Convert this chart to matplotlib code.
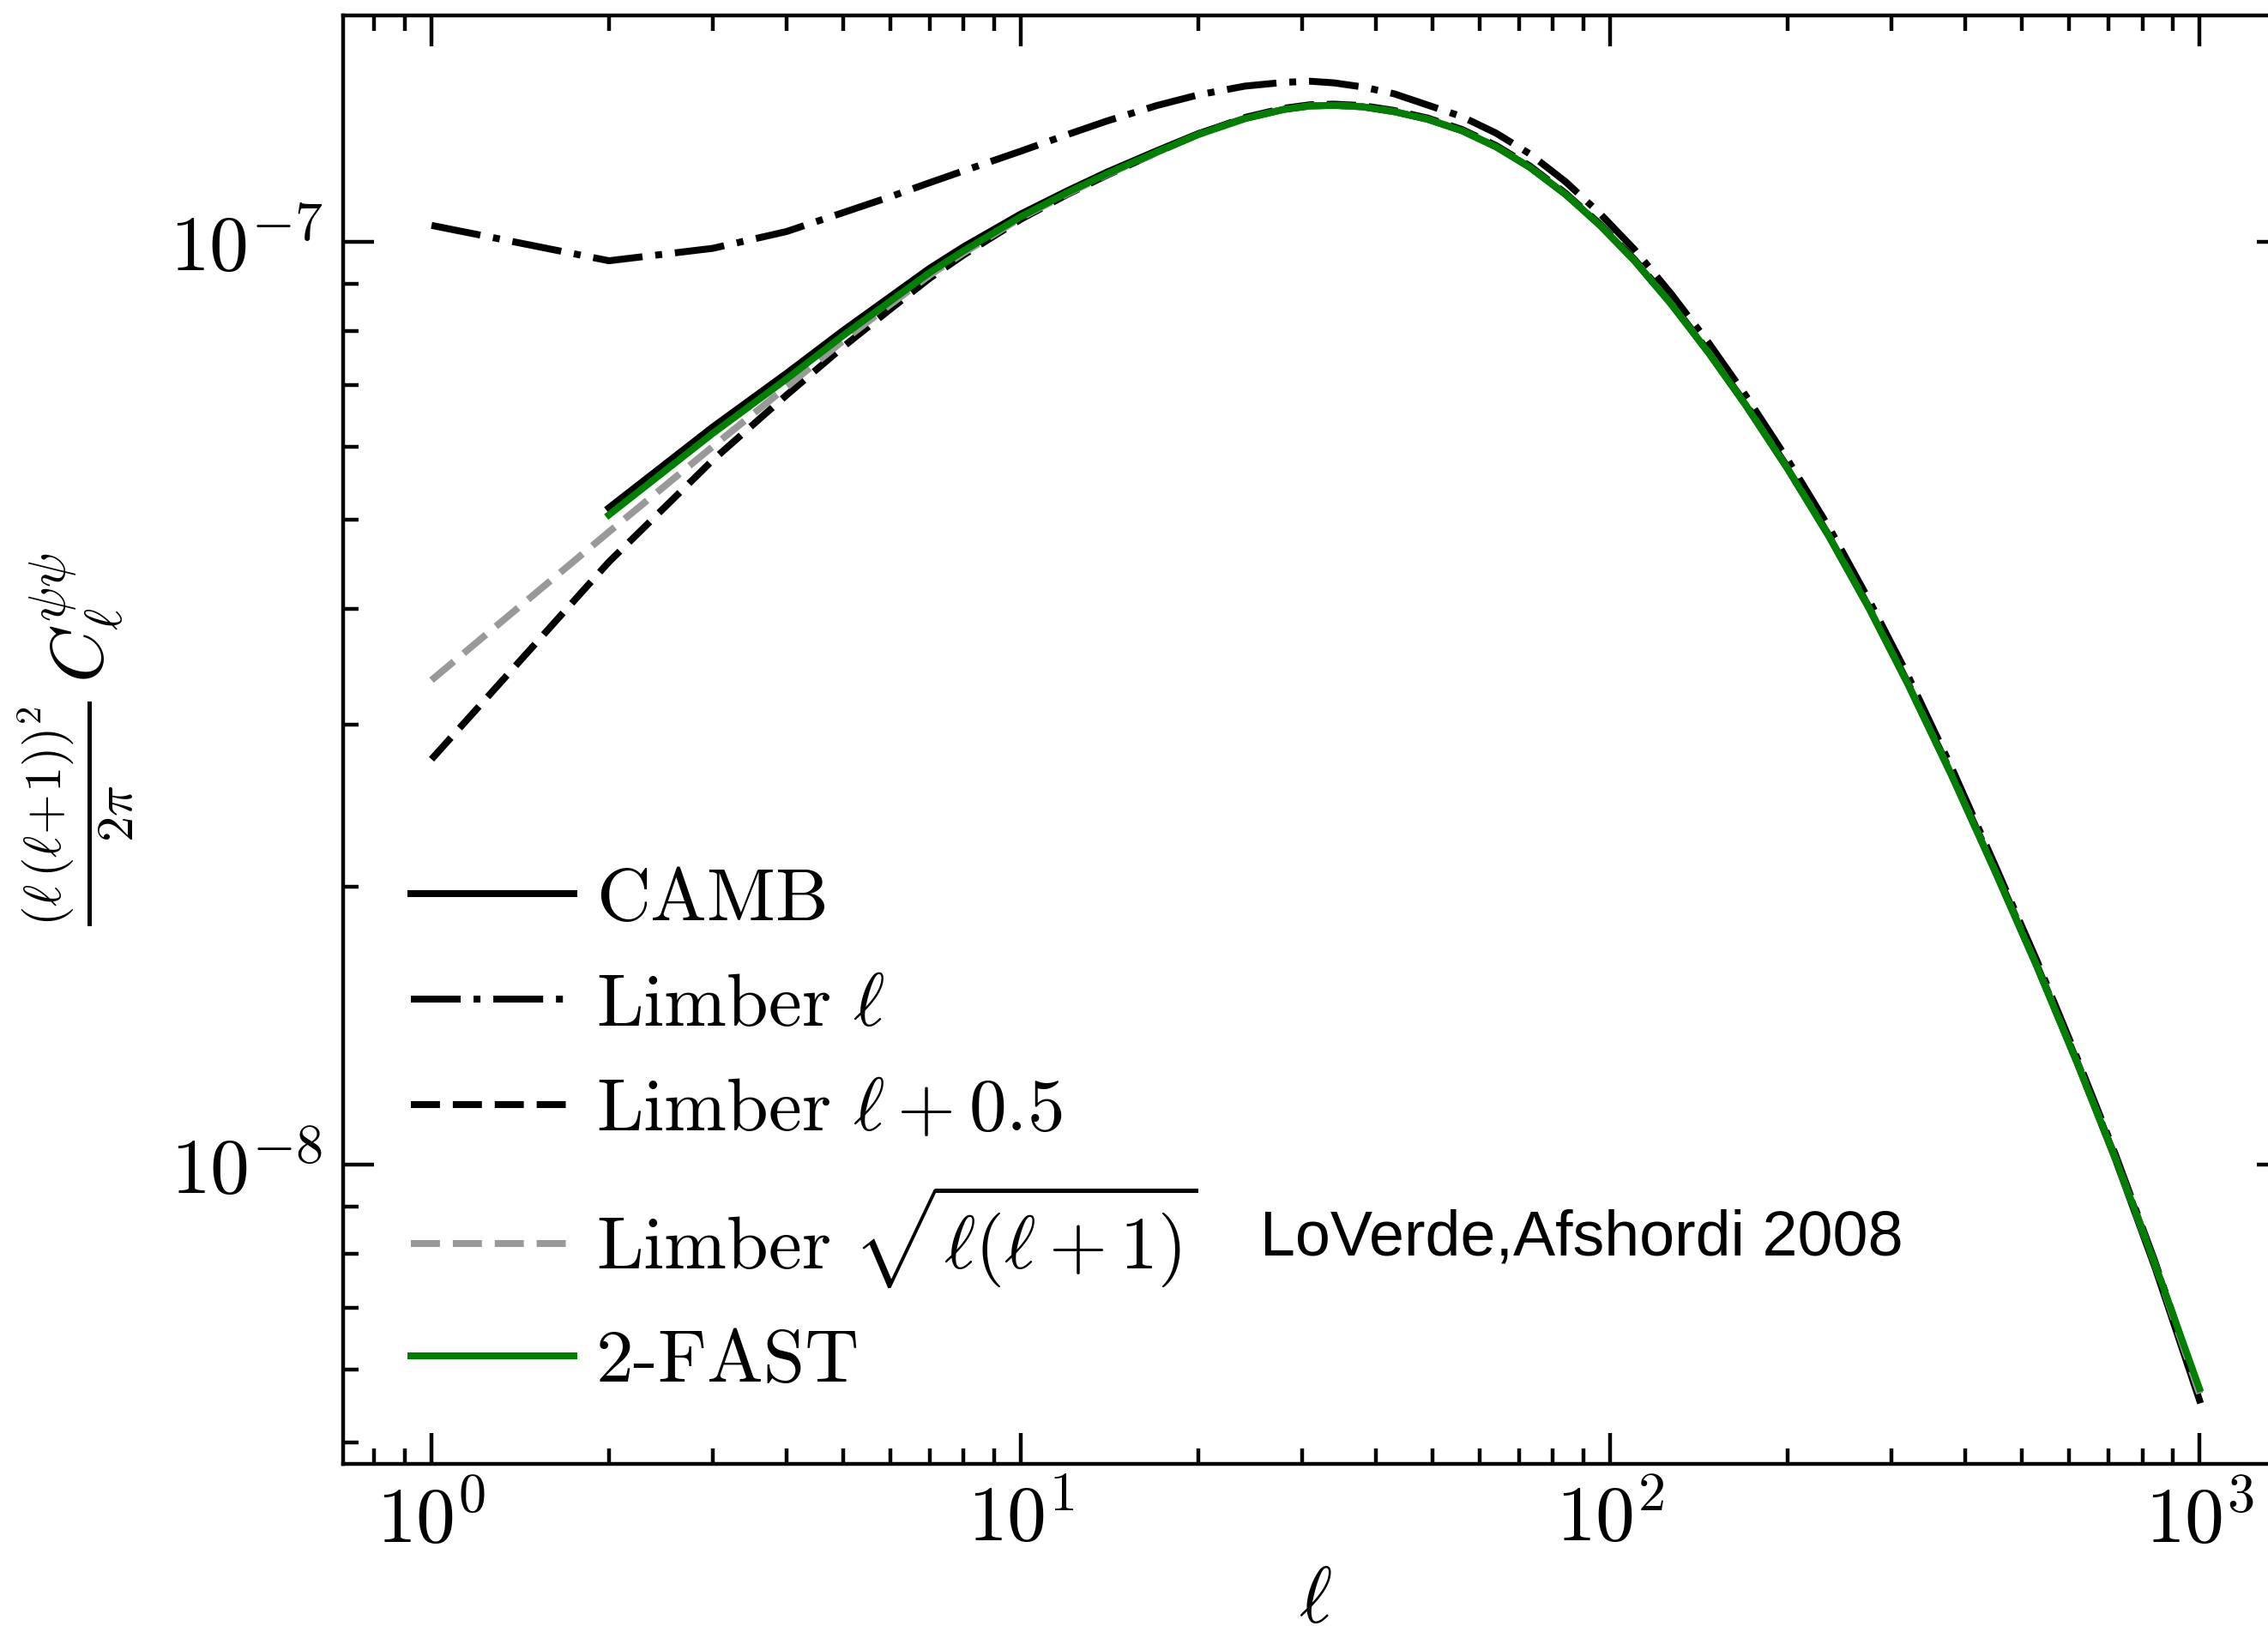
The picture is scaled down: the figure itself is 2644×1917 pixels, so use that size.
import numpy as np
import matplotlib
matplotlib.use("Agg")
import matplotlib.pyplot as plt
from matplotlib.ticker import LogLocator, FuncFormatter, NullFormatter

# multipoles
ell = np.array([1, 2, 3, 4, 5, 6, 7, 8, 10, 12, 14, 17, 20, 24, 28, 31, 34, 38, 43, 49,
                56, 64, 73, 84, 96, 110, 127, 147, 170, 200, 235, 275, 320, 380, 450,
                530, 620, 720, 840, 1000])

# values in units of 1e-8
# 2-FAST (starts at ell=2)
ell_fast = ell[1:]
cl_fast = np.array([5.06, 6.20, 7.10, 7.92, 8.62, 9.26, 9.78, 10.65, 11.31, 11.85, 12.51,
                    13.07, 13.60, 13.92, 14.04, 14.06, 14.01, 13.84, 13.58, 13.20, 12.68,
                    12.05, 11.26, 10.43, 9.54, 8.56, 7.58, 6.65, 5.68, 4.80, 4.01, 3.32,
                    2.64, 2.08, 1.64, 1.29, 1.016, 0.781, 0.572]) * 1e-8

# CAMB (starts at ell=2)
cl_camb = np.array([5.15, 6.30, 7.20, 8.02, 8.72, 9.36, 9.88, 10.72, 11.36, 11.90, 12.55,
                    13.10, 13.61, 13.92, 14.04, 14.06, 14.01, 13.84, 13.58, 13.20, 12.68,
                    12.05, 11.26, 10.43, 9.54, 8.56, 7.58, 6.65, 5.68, 4.80, 4.01, 3.32,
                    2.64, 2.08, 1.64, 1.29, 1.014, 0.775, 0.556]) * 1e-8

# Limber ell
cl_limb = np.array([10.42, 9.54, 9.84, 10.26, 10.76, 11.19, 11.59, 11.94, 12.54, 13.07, 13.52,
                    14.05, 14.43, 14.75, 14.89, 14.93, 14.87, 14.72, 14.47, 14.07, 13.67,
                    13.12, 12.46, 11.62, 10.74, 9.81, 8.78, 7.77, 6.81, 5.81, 4.91, 4.09,
                    3.39, 2.69, 2.11, 1.663, 1.305, 1.026, 0.786, 0.565]) * 1e-8

# Limber ell + 0.5
cl_half = np.array([2.75, 4.50, 5.80, 6.82, 7.70, 8.45, 9.13, 9.68, 10.58, 11.26, 11.81,
                    12.50, 13.08, 13.64, 13.96, 14.08, 14.10, 14.05, 13.88, 13.62, 13.24,
                    12.72, 12.09, 11.29, 10.46, 9.57, 8.59, 7.60, 6.67, 5.70, 4.81, 4.02,
                    3.33, 2.65, 2.09, 1.645, 1.294, 1.019, 0.783, 0.565]) * 1e-8

# Limber sqrt(ell(ell+1))
cl_sqrt = np.array([3.35, 4.85, 6.00, 6.96, 7.82, 8.55, 9.20, 9.73, 10.62, 11.28, 11.83,
                    12.50, 13.07, 13.60, 13.92, 14.04, 14.06, 14.01, 13.84, 13.58, 13.20,
                    12.68, 12.05, 11.26, 10.43, 9.54, 8.56, 7.58, 6.65, 5.68, 4.80, 4.01,
                    3.32, 2.64, 2.08, 1.64, 1.29, 1.016, 0.781, 0.565]) * 1e-8

plt.rcParams['mathtext.fontset'] = 'cm'
plt.rcParams['font.family'] = 'serif'
plt.rcParams['font.serif'] = ['cmr10']
plt.rcParams['axes.formatter.use_mathtext'] = True
plt.rcParams['lines.scale_dashes'] = False

FS = 33
lw = 2.9

fig = plt.figure(figsize=(13.22, 9.585), dpi=200)
ax = fig.add_axes([0.15129, 0.10955, 0.85746, 0.88086])

ax.plot(ell_fast, cl_camb, color='black', lw=lw, label='CAMB')
ax.plot(ell, cl_limb, color='black', lw=lw, linestyle=(0, (20.9, 5.4, 2.9, 5.4)),
        label=r'$\mathrm{Limber}\ \ell$')
ax.plot(ell, cl_half, color='black', lw=lw, linestyle=(0, (12.2, 5.4)),
        label=r'$\mathrm{Limber}\ \ell+0.5$')
ax.plot(ell, cl_sqrt, color='#999999', lw=lw, linestyle=(0, (12.2, 5.4)),
        label=r'$\mathrm{Limber}\ \sqrt{\ell(\ell+1)}$')
ax.plot(ell_fast, cl_fast, color='green', lw=lw, label='2-FAST')

ax.set_xscale('log')
ax.set_yscale('log')
ax.set_xlim(10 ** -0.15, 10 ** 3.15)
ax.set_ylim(4.74e-9, 1.758e-7)

fmt = FuncFormatter(lambda v, pos: r'$10^{%d}$' % int(round(np.log10(v))))
for axis in (ax.xaxis, ax.yaxis):
    axis.set_major_locator(LogLocator(base=10))
    axis.set_minor_locator(LogLocator(base=10, subs=np.arange(2, 10), numticks=50))
    axis.set_major_formatter(fmt)
    axis.set_minor_formatter(NullFormatter())

ax.tick_params(which='both', direction='in', top=True, right=True, width=1.6,
               labelsize=FS, pad=8.5)
ax.tick_params(which='major', length=13)
ax.tick_params(which='minor', length=6.5)
for s in ax.spines.values():
    s.set_linewidth(1.6)

ax.set_xlabel(r'$\ell$', fontsize=FS)
ax.set_ylabel(r'$\frac{(\ell\,(\ell\!+\!1))^2}{2\pi}\,C_\ell^{\psi\psi}$', fontsize=31)
ax.xaxis.set_label_coords(0.5, -0.072)
ax.yaxis.set_label_coords(-0.107, 0.5)

ax.legend(loc='lower left', frameon=False, fontsize=31.5, handlelength=2.17,
          handletextpad=0.3, labelspacing=0.51)

fig.text(1469 / 2644, 1 - 1463 / 1917, 'LoVerde,Afshordi 2008', family='Liberation Sans',
         fontsize=26.5, va='baseline')

fig.savefig('out.png', dpi=200)
